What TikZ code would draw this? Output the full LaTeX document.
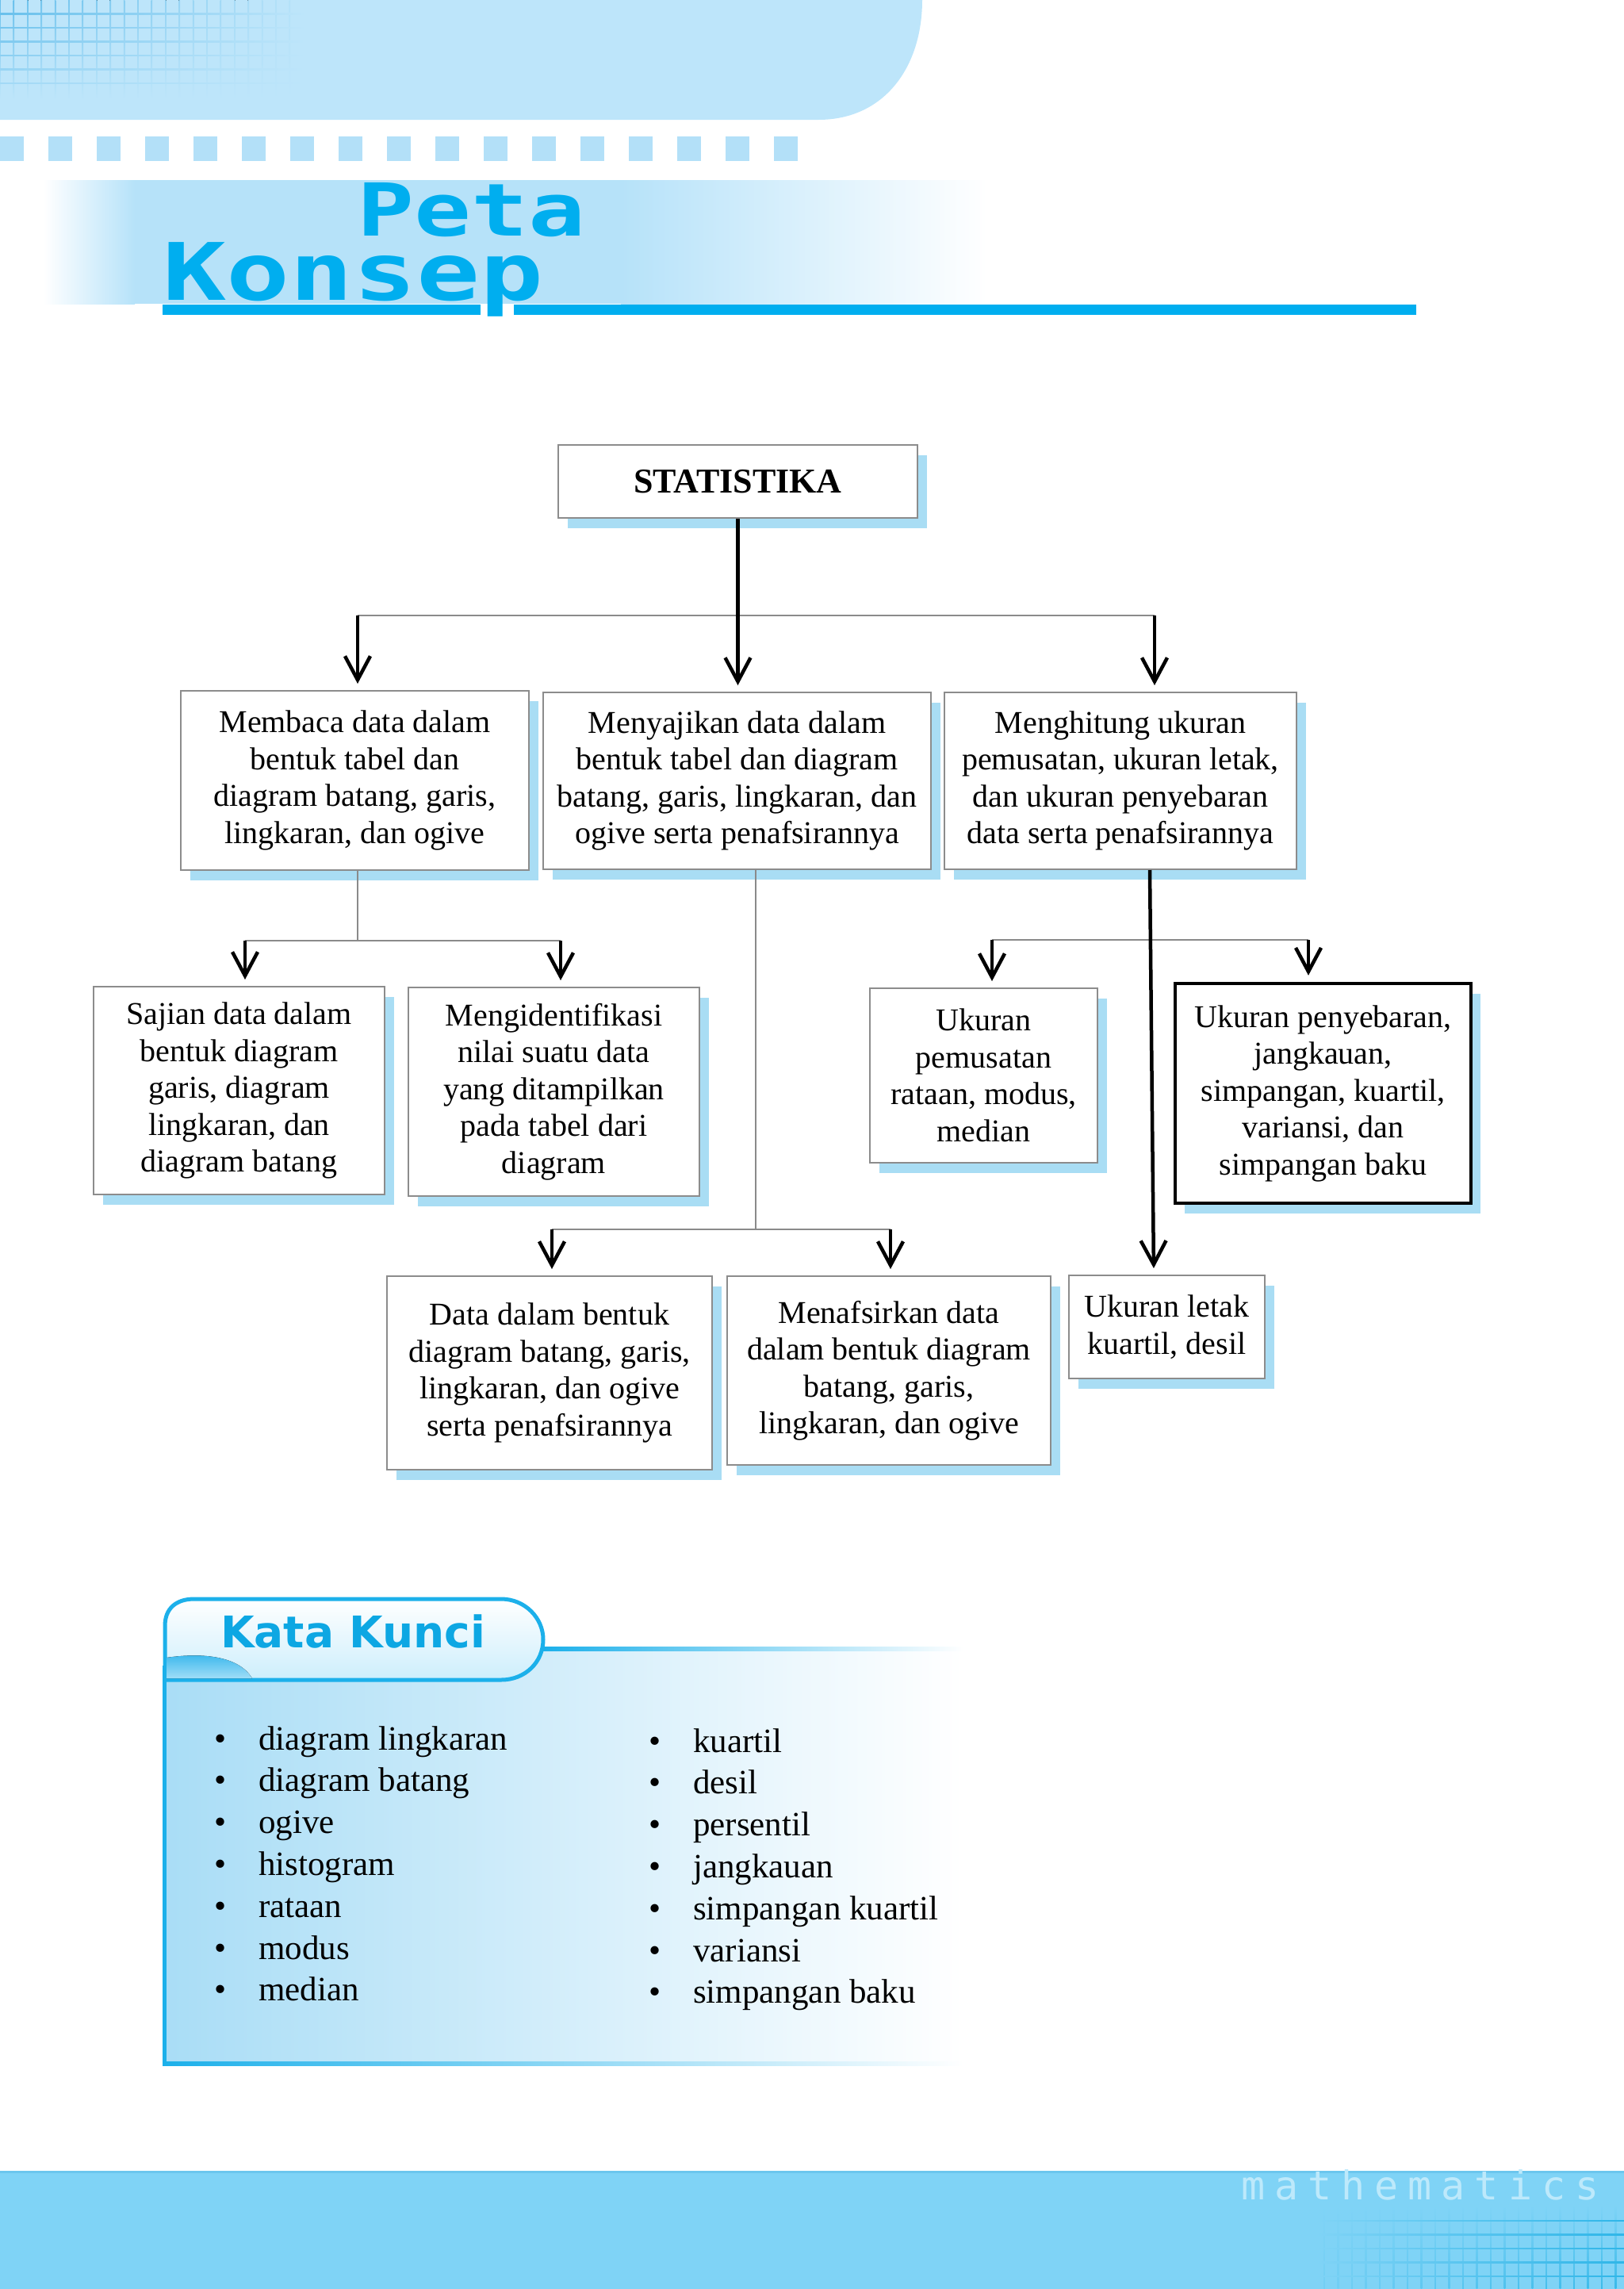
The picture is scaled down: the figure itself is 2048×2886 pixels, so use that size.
\documentclass[tikz,border=0pt]{standalone}
\usepackage{fontspec}
\setmainfont{Liberation Serif}
\newfontfamily\monofont{DejaVu Sans Mono}
\newfontfamily\kkfont{DejaVu Sans}
\usetikzlibrary{arrows.meta,shadows}

\definecolor{topblue}{HTML}{BDE5FA}
\definecolor{gridblue}{HTML}{5DBBEA}
\definecolor{sqblue}{HTML}{B3E0F8}
\definecolor{bandblue}{HTML}{B6E2F9}
\definecolor{titlecyan}{HTML}{00AEEF}
\definecolor{shadowblue}{HTML}{A9DDF4}
\definecolor{boxgray}{HTML}{8C8C8C}
\definecolor{linegray}{HTML}{8A8A8A}
\definecolor{panelblue}{HTML}{A9DDF6}
\definecolor{tabblue}{HTML}{CDEEFC}
\definecolor{kkcyan}{HTML}{1CB0EA}
\definecolor{kktitle}{HTML}{0DA7E3}
\definecolor{blobcyan}{HTML}{36B6EC}
\definecolor{footblue}{HTML}{7FD3F6}
\definecolor{footline}{HTML}{6CC6EE}
\definecolor{footgrid}{HTML}{2FB6E8}
\definecolor{ghostblue}{HTML}{BDE9FB}

\newcommand\kotakfont{\fontsize{40}{46.5}\selectfont}
\newcommand\kunciitem{\fontsize{43}{50}\selectfont}

\begin{document}
\begin{tikzpicture}[x=1pt,y=-1pt,>={Straight Barb[length=30pt,width=32pt]},
                    box/.style={draw=boxgray,line width=2pt,fill=white,inner sep=0pt,
                      align=center,font=\kotakfont,
                      drop shadow={shadow xshift=12pt,shadow yshift=-13pt,fill=shadowblue,opacity=1}},
                    boxbold/.style={box,draw=black,line width=4.5pt},
                    branch/.style={draw=linegray,line width=2pt},
                    arr/.style={->,line width=4.5pt,shorten >=8pt},
                    kata/.style={anchor=base west,inner sep=0pt,font=\kunciitem}]

  \useasboundingbox (0,0) rectangle (2048,2886);

  % header
  \fill[topblue] (0,0) -- (1163,0) .. controls (1163,85) and (1115,151) .. (1032,151) -- (0,151) -- cycle;
  \foreach \k [evaluate=\k as \pc using int(90-\k*3.8)] in {0,...,21}
    \fill[top color=gridblue!\pc!topblue,bottom color=topblue] (\k*17.4-0.8,0) rectangle (\k*17.4+0.8,125);
  \foreach \j [evaluate=\j as \pc using int(100-\j*12)] in {1,...,6}
    \fill[left color=gridblue!\pc!topblue,right color=topblue] (0,\j*17.5-0.8) rectangle (385,\j*17.5+0.8);
  \foreach \i in {0,...,16}
    \fill[sqblue] (\i*61,172) rectangle ++(30,31);

  \fill[left color=white,right color=bandblue] (55,227) rectangle (170,383);
  \fill[bandblue] (170,227) rectangle (783,383);
  \fill[left color=bandblue,right color=white] (783,227) rectangle (1245,383);

  \fill[titlecyan] (205,384) rectangle (606,397);
  \fill[titlecyan] (648,384) rectangle (1786,397);
  \node[anchor=north west,inner sep=0pt,align=left,text=titlecyan,
        font=\monofont\bfseries\fontsize{100}{81}\selectfont] (judulpeta) at (205,230)
       {\hspace*{245pt}\scalebox{1.3}[1]{\fontsize{92}{81}\selectfont Peta}\\\scalebox{1.33}[1]{Konsep}};

  % concept map
  \node[box,minimum width=453pt,minimum height=92pt,
        font=\bfseries\fontsize{44}{50}\selectfont] (stat) at (930.5,607) {STATISTIKA};

  \node[box,minimum width=439pt,minimum height=226pt] (baca) at (447.5,984)
       {Membaca data dalam\\bentuk tabel dan\\diagram batang, garis,\\lingkaran, dan ogive};
  \node[box,minimum width=489pt,minimum height=223pt] (saji) at (929.5,984.5)
       {Menyajikan data dalam\\bentuk tabel dan diagram\\batang, garis, lingkaran, dan\\ogive serta penafsirannya};
  \node[box,minimum width=444pt,minimum height=223pt] (hitung) at (1413,984.5)
       {Menghitung ukuran\\pemusatan, ukuran letak,\\dan ukuran penyebaran\\data serta penafsirannya};

  \node[box,minimum width=367pt,minimum height=262pt] (sajian) at (301.5,1375)
       {Sajian data dalam\\bentuk diagram\\garis, diagram\\lingkaran, dan\\diagram batang};
  \node[box,minimum width=367pt,minimum height=263pt] (ident) at (698.5,1376.5)
       {Mengidentifikasi\\nilai suatu data\\yang ditampilkan\\pada tabel dari\\diagram};
  \node[box,minimum width=287pt,minimum height=220pt] (pusat) at (1240.5,1356)
       {Ukuran\\pemusatan\\rataan, modus,\\median};
  \node[boxbold,minimum width=373pt,minimum height=277pt] (sebar) at (1668.5,1378.5)
       {Ukuran penyebaran,\\jangkauan,\\simpangan, kuartil,\\variansi, dan\\simpangan baku};

  \node[box,minimum width=410pt,minimum height=244pt] (databtk) at (693,1731)
       {Data dalam bentuk\\diagram batang, garis,\\lingkaran, dan ogive\\serta penafsirannya};
  \node[box,minimum width=408pt,minimum height=238pt] (tafsir) at (1121,1728)
       {Menafsirkan data\\dalam bentuk diagram\\batang, garis,\\lingkaran, dan ogive};
  \node[box,minimum width=247pt,minimum height=130pt] (letak) at (1471.5,1673)
       {Ukuran letak\\kuartil, desil};

  \coordinate (jl) at (451,776);
  \coordinate (jr) at (1456,776);
  \coordinate (bj) at (451,1186);
  \coordinate (bl) at (309,1186);
  \coordinate (br) at (707,1186);
  \coordinate (sj) at (953,1550);
  \coordinate (sl) at (696,1550);
  \coordinate (sr) at (1123,1550);
  \coordinate (hl) at (1251,1185);
  \coordinate (hr) at (1650,1185);
  \coordinate (hv) at (1450,1000);
  \coordinate (lt) at (1455,1600);

  \draw[branch] (jl) -- (jr);
  \draw[arr] (stat.south) -- (stat.south |- saji.north);
  \draw[arr] (jl) -- (jl |- baca.north);
  \draw[arr] (jr) -- (jr |- hitung.north);

  \draw[branch] (bj |- baca.south) -- (bj);
  \draw[branch] (bl) -- (br);
  \draw[arr] (bl) -- (bl |- sajian.north);
  \draw[arr] (br) -- (br |- ident.north);

  \draw[branch] (sj |- saji.south) -- (sj);
  \draw[branch] (sl) -- (sr);
  \draw[arr] (sl) -- (sl |- databtk.north);
  \draw[arr] (sr) -- (sr |- tafsir.north);

  \draw[branch] (hl) -- (hr);
  \draw[arr] (hl) -- (hl |- pusat.north);
  \draw[arr] (hr) -- (hr |- sebar.north);
  \draw[arr] (hv |- hitung.south) -- (lt |- letak.north);

  % kata kunci
  \fill[left color=panelblue,right color=white] (208,2079) rectangle (1215,2602);
  \fill[left color=kkcyan,right color=white] (685,2076) rectangle (1215,2081);
  \fill[left color=kkcyan,middle color=kkcyan,right color=white] (205,2599) rectangle (1215,2604);
  \fill[kkcyan] (205,2100) rectangle (210,2604);
  \draw[kkcyan,line width=5pt,top color=white,bottom color=tabblue]
    (208,2118) -- (208,2050) .. controls (208,2028) and (222,2016) .. (245,2016) -- (632,2016)
    .. controls (662,2016) and (685,2040) .. (685,2067) .. controls (685,2096) and (662,2118) .. (632,2118) -- cycle;
  \fill[top color=blobcyan,bottom color=tabblue!70!blobcyan]
    (210,2090) .. controls (250,2084) and (300,2086) .. (318,2116) -- (210,2116) -- cycle;
  \node[anchor=base west,inner sep=0pt,text=kktitle,
        font=\kkfont\bfseries\fontsize{55}{55}\selectfont] (judul) at (278,2077) {Kata Kunci};

  \node[kata] (k1) at (270,2206)   {\makebox[56pt][l]{\textbullet}diagram lingkaran};
  \node[kata] (k2) at (270,2258.8) {\makebox[56pt][l]{\textbullet}diagram batang};
  \node[kata] (k3) at (270,2311.6) {\makebox[56pt][l]{\textbullet}ogive};
  \node[kata] (k4) at (270,2364.4) {\makebox[56pt][l]{\textbullet}histogram};
  \node[kata] (k5) at (270,2417.2) {\makebox[56pt][l]{\textbullet}rataan};
  \node[kata] (k6) at (270,2470)   {\makebox[56pt][l]{\textbullet}modus};
  \node[kata] (k7) at (270,2522.8) {\makebox[56pt][l]{\textbullet}median};

  \node[kata] (k8)  at (818,2209)   {\makebox[56pt][l]{\textbullet}kuartil};
  \node[kata] (k9)  at (818,2261.8) {\makebox[56pt][l]{\textbullet}desil};
  \node[kata] (k10) at (818,2314.6) {\makebox[56pt][l]{\textbullet}persentil};
  \node[kata] (k11) at (818,2367.4) {\makebox[56pt][l]{\textbullet}jangkauan};
  \node[kata] (k12) at (818,2420.2) {\makebox[56pt][l]{\textbullet}simpangan kuartil};
  \node[kata] (k13) at (818,2473)   {\makebox[56pt][l]{\textbullet}variansi};
  \node[kata] (k14) at (818,2525.8) {\makebox[56pt][l]{\textbullet}simpangan baku};

  % footer
  \fill[footblue] (0,2737) rectangle (2048,2886);
  \draw[footline,line width=3pt] (0,2738.5) -- (2048,2738.5);
  \foreach \k [evaluate=\k as \pc using int(15+\k*3.5)] in {0,...,21}
    \fill[top color=footblue,bottom color=footgrid!\pc!footblue] (1670+\k*17.5-0.8,2780) rectangle (1670+\k*17.5+0.8,2886);
  \foreach \j in {0,...,4}
    \fill[left color=footblue,right color=footgrid] (1660,2800+\j*17.5-0.9) rectangle (2048,2800+\j*17.5+0.9);
  \node[anchor=base west,inner sep=0pt,text=ghostblue,
        font=\monofont\fontsize{50}{50}\selectfont\addfontfeature{LetterSpace=24}] (mat) at (1565,2773) {mathematics};

\end{tikzpicture}
\end{document}
